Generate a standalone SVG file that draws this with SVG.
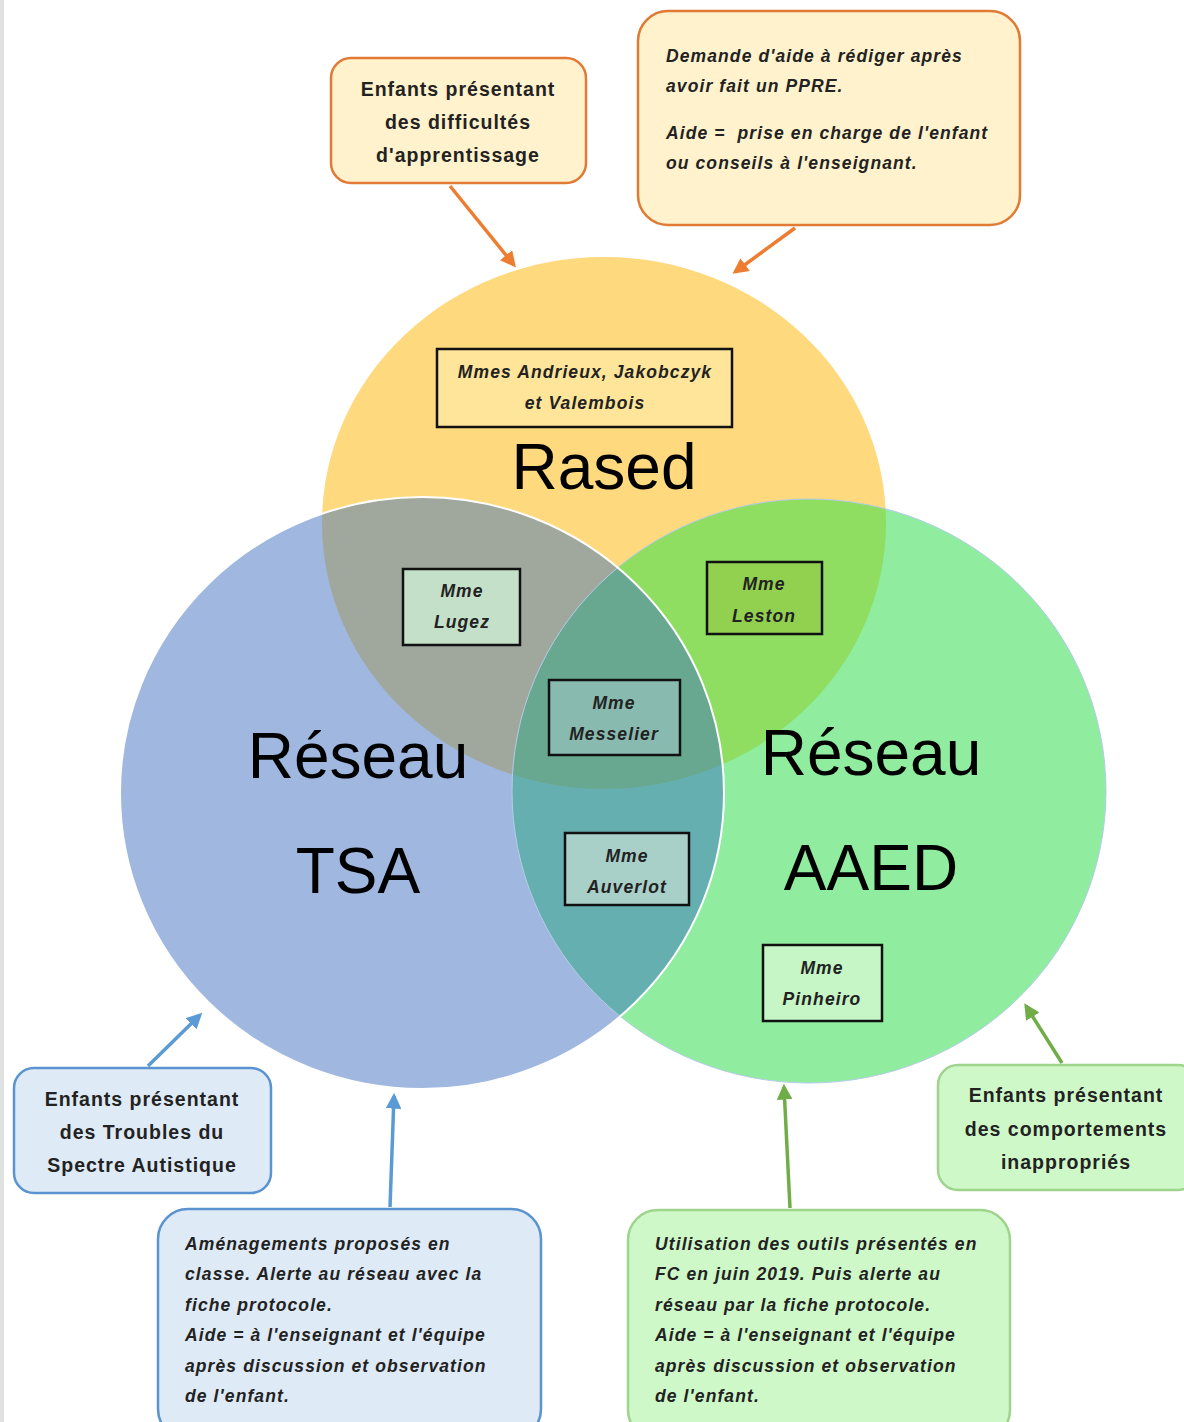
<svg xmlns="http://www.w3.org/2000/svg" xmlns:xlink="http://www.w3.org/1999/xlink" width="1184" height="1422" viewBox="0 0 1184 1422">
<style>
.big{font-family:"Liberation Sans",Arial,sans-serif;font-size:64px;fill:#000;text-anchor:middle}
.lbl{font-family:"Liberation Sans",Arial,sans-serif;font-weight:bold;font-size:19.5px;letter-spacing:1px;fill:#222;text-anchor:middle}
.it{font-family:"Liberation Sans",Arial,sans-serif;font-weight:bold;font-style:italic;font-size:17.5px;letter-spacing:1.1px;fill:#222}
.nm{font-family:"Liberation Sans",Arial,sans-serif;font-weight:bold;font-style:italic;font-size:17.5px;letter-spacing:1.1px;fill:#222;text-anchor:middle}
.nbox{stroke:#111;stroke-width:2.5}
.obox{fill:#FFF2CC;stroke:#E07A35;stroke-width:2.5}
.bbox{fill:#DEEAF6;stroke:#5B93D0;stroke-width:2.5}
.gbox{fill:#CFF8C9;stroke:#9ED48C;stroke-width:2.5}
.ao{stroke:#ED7D31;stroke-width:3.5;fill:none}
.ab{stroke:#5B9BD5;stroke-width:3.5;fill:none}
.ag{stroke:#70AD47;stroke-width:3.5;fill:none}
</style>
<defs>
<ellipse id="eY" cx="604" cy="523" rx="282" ry="266"/>
<ellipse id="eB" cx="422" cy="793" rx="302" ry="296"/>
<ellipse id="eG" cx="809" cy="791" rx="297" ry="292"/>
<clipPath id="cY"><use xlink:href="#eY"/></clipPath>
<clipPath id="cB"><use xlink:href="#eB"/></clipPath>
<marker id="mo" viewBox="0 0 10 10" refX="8" refY="5" markerWidth="4.5" markerHeight="4.5" orient="auto"><path d="M0,0 L10,5 L0,10 z" fill="#ED7D31"/></marker>
<marker id="mb" viewBox="0 0 10 10" refX="8" refY="5" markerWidth="4.5" markerHeight="4.5" orient="auto"><path d="M0,0 L10,5 L0,10 z" fill="#5B9BD5"/></marker>
<marker id="mg" viewBox="0 0 10 10" refX="8" refY="5" markerWidth="4.5" markerHeight="4.5" orient="auto"><path d="M0,0 L10,5 L0,10 z" fill="#70AD47"/></marker>
</defs>
<rect x="0" y="0" width="1184" height="1422" fill="#fff"/>
<rect x="0" y="0" width="4" height="1422" fill="#E0E2E2"/>

<g id="venn">
<use xlink:href="#eY" fill="#FFD97D"/>
<use xlink:href="#eB" fill="#A0B7E0"/>
<use xlink:href="#eG" fill="#90EDA0"/>
<g clip-path="url(#cY)">
<use xlink:href="#eB" fill="#A0A89E"/>
<use xlink:href="#eG" fill="#8FDE62"/>
</g>
<g clip-path="url(#cB)"><use xlink:href="#eG" fill="#66AFB1"/></g>
<g clip-path="url(#cY)"><g clip-path="url(#cB)"><use xlink:href="#eG" fill="#68A890"/></g></g>
<use xlink:href="#eG" fill="none" stroke="#B5CBE8" stroke-width="1"/>
<use xlink:href="#eB" fill="none" stroke="#fff" stroke-width="2"/>
</g>

<g id="titles">
<text class="big" x="604" y="489">Rased</text>
<text class="big" x="358" y="778">Réseau</text>
<text class="big" x="358" y="893">TSA</text>
<text class="big" x="871" y="775">Réseau</text>
<text class="big" x="871" y="890">AAED</text>
</g>

<g id="connectors">
<line class="ao" x1="450" y1="186" x2="514" y2="265" marker-end="url(#mo)"/>
<line class="ao" x1="795" y1="228" x2="735" y2="272" marker-end="url(#mo)"/>
<line class="ab" x1="148" y1="1066" x2="200" y2="1015" marker-end="url(#mb)"/>
<line class="ab" x1="390" y1="1207" x2="394" y2="1096" marker-end="url(#mb)"/>
<line class="ag" x1="790" y1="1208" x2="784" y2="1087" marker-end="url(#mg)"/>
<line class="ag" x1="1062" y1="1063" x2="1026" y2="1006" marker-end="url(#mg)"/>
</g>

<g id="box-difficultes">
<rect class="obox" x="331" y="58" width="255" height="125" rx="20"/>
<text class="lbl" x="458" y="96">Enfants présentant</text>
<text class="lbl" x="458" y="129">des difficultés</text>
<text class="lbl" x="458" y="162">d'apprentissage</text>
</g>

<g id="box-demande">
<rect class="obox" x="638" y="11" width="382" height="214" rx="30"/>
<text class="it" x="666" y="62">Demande d'aide à rédiger après</text>
<text class="it" x="666" y="92">avoir fait un PPRE.</text>
<text class="it" x="666" y="139" xml:space="preserve">Aide =  prise en charge de l'enfant</text>
<text class="it" x="666" y="169">ou conseils à l'enseignant.</text>
</g>

<g id="name-rased">
<rect class="nbox" x="437" y="349" width="295" height="78" fill="#FEE599"/>
<text class="nm" x="585" y="378">Mmes Andrieux, Jakobczyk</text>
<text class="nm" x="585" y="409">et Valembois</text>
</g>

<g id="name-lugez">
<rect class="nbox" x="403" y="569" width="117" height="76" fill="#C5E0C9"/>
<text class="nm" x="462" y="597">Mme</text>
<text class="nm" x="462" y="628">Lugez</text>
</g>

<g id="name-leston">
<rect class="nbox" x="707" y="562" width="115" height="72" fill="#92D050"/>
<text class="nm" x="764" y="590">Mme</text>
<text class="nm" x="764" y="622">Leston</text>
</g>

<g id="name-messelier">
<rect class="nbox" x="549" y="680" width="131" height="75" fill="#88BAB0"/>
<text class="nm" x="614" y="709">Mme</text>
<text class="nm" x="614" y="740">Messelier</text>
</g>

<g id="name-auverlot">
<rect class="nbox" x="565" y="833" width="124" height="72" fill="#A9CFC9"/>
<text class="nm" x="627" y="862">Mme</text>
<text class="nm" x="627" y="893">Auverlot</text>
</g>

<g id="name-pinheiro">
<rect class="nbox" x="763" y="945" width="119" height="76" fill="#C6F5C6"/>
<text class="nm" x="822" y="974">Mme</text>
<text class="nm" x="822" y="1005">Pinheiro</text>
</g>

<g id="box-tsa">
<rect class="bbox" x="14" y="1068" width="257" height="125" rx="20"/>
<text class="lbl" x="142" y="1106">Enfants présentant</text>
<text class="lbl" x="142" y="1139">des Troubles du</text>
<text class="lbl" x="142" y="1172">Spectre Autistique</text>
</g>

<g id="box-amenagements">
<rect class="bbox" x="158" y="1209" width="383" height="230" rx="30"/>
<text class="it" x="185" y="1250">Aménagements proposés en</text>
<text class="it" x="185" y="1280">classe. Alerte au réseau avec la</text>
<text class="it" x="185" y="1311">fiche protocole.</text>
<text class="it" x="185" y="1341">Aide = à l'enseignant et l'équipe</text>
<text class="it" x="185" y="1372">après discussion et observation</text>
<text class="it" x="185" y="1402">de l'enfant.</text>
</g>

<g id="box-outils">
<rect class="gbox" x="628" y="1210" width="382" height="230" rx="30"/>
<text class="it" x="655" y="1250">Utilisation des outils présentés en</text>
<text class="it" x="655" y="1280">FC en juin 2019. Puis alerte au</text>
<text class="it" x="655" y="1311">réseau par la fiche protocole.</text>
<text class="it" x="655" y="1341">Aide = à l'enseignant et l'équipe</text>
<text class="it" x="655" y="1372">après discussion et observation</text>
<text class="it" x="655" y="1402">de l'enfant.</text>
</g>

<g id="box-comportements">
<rect class="gbox" x="938" y="1065" width="260" height="125" rx="20"/>
<text class="lbl" x="1066" y="1102">Enfants présentant</text>
<text class="lbl" x="1066" y="1136">des comportements</text>
<text class="lbl" x="1066" y="1169">inappropriés</text>
</g>
</svg>
